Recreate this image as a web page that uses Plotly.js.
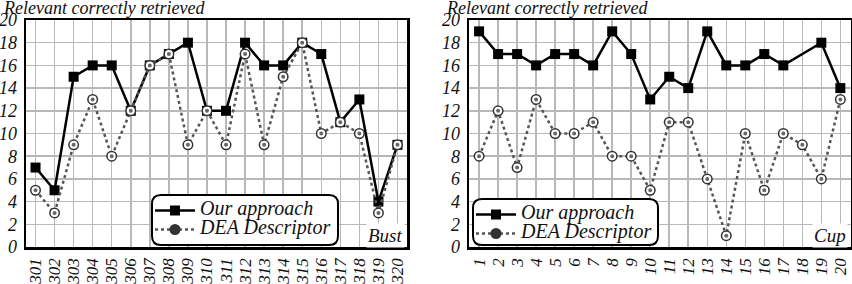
<!DOCTYPE html>
<html><head><meta charset="utf-8">
<script src="https://cdn.plot.ly/plotly-3.0.1.min.js"></script>
<style>html,body{margin:0;padding:0;background:#fff}#chart{width:852px;height:284px}</style>
</head><body><div id="chart"></div>
<script>
const bustCategories = [301,302,303,304,305,306,307,308,309,310,311,312,313,314,315,316,317,318,319,320];
const bustOurApproach = [7,5,15,16,16,12,16,17,18,12,12,18,16,16,18,17,11,13,4,9];
const bustDEA = [5,3,9,13,8,12,16,17,9,12,9,17,9,15,18,10,11,10,3,9];
const cupCategories = [1,2,3,4,5,6,7,8,9,10,11,12,13,14,15,16,17,18,19,20];
const cupOurApproach = [19,17,17,16,17,17,16,19,17,13,15,14,19,16,16,17,16,null,18,14];
const cupDEA = [8,12,7,13,10,10,11,8,8,5,11,11,6,1,10,5,10,9,6,13];
const seriesNames = ['Our approach','DEA Descriptor'];
const panelLabels = ['Bust','Cup'];
const yTicks = [0,2,4,6,8,10,12,14,16,18,20];
const yAxisTitle = 'Relevant correctly retrieved';

const W = 852, H = 284;
const px = v => v / W;
const py = v => (H - v) / H;
const serif = '"Liberation Serif"';
const yTickFont = {family: serif, size: 18, style: 'italic', color: '#111'};
const xTickFont = {family: serif, size: 17, style: 'italic', color: '#111'};

function legendName(s) {
  return '<span style="font-size:20px">' + s + '</span>';
}

function ourTrace(x, y, xa, ya, leg) {
  return {x: x, y: y, xaxis: xa, yaxis: ya, legend: leg, name: legendName(seriesNames[0]),
    type: 'scatter', mode: 'lines+markers', connectgaps: true,
    line: {color: '#000', width: 2.5},
    marker: {symbol: 'square', size: 10, color: '#000', line: {width: 0}}};
}
function deaTrace(x, y, xa, ya, leg) {
  return {x: x, y: y, xaxis: xa, yaxis: ya, legend: leg, name: legendName(seriesNames[1]),
    type: 'scatter', mode: 'lines+markers',
    line: {color: '#555', width: 2.5, dash: 'dot'},
    marker: {symbol: 'circle', size: 11, color: '#333', line: {width: 0}}};
}
function deaCenter(x, y, xa, ya, leg) {
  return {x: x, y: y, xaxis: xa, yaxis: ya, legend: leg, showlegend: false,
    type: 'scatter', mode: 'markers',
    marker: {symbol: 'circle', size: 6, color: '#666', line: {color: '#fff', width: 2}}};
}

const data = [
  ourTrace(bustCategories, bustOurApproach, 'x', 'y', 'legend'),
  deaTrace(bustCategories, bustDEA, 'x', 'y', 'legend'),
  deaCenter(bustCategories, bustDEA, 'x', 'y', 'legend'),
  ourTrace(cupCategories, cupOurApproach, 'x2', 'y2', 'legend2'),
  deaTrace(cupCategories, cupDEA, 'x2', 'y2', 'legend2'),
  deaCenter(cupCategories, cupDEA, 'x2', 'y2', 'legend2')
];

function xAxis(domain, range, cats, anchor) {
  return {domain: domain, range: range, anchor: anchor, tickmode: 'array',
    tickvals: cats, ticktext: cats.map(String), tickangle: -90, tickfont: xTickFont,
    showgrid: true, gridcolor: '#b8b8b8', gridwidth: 1.5, zeroline: false,
    showline: true, mirror: true, linecolor: '#000', linewidth: 2.5, ticks: '', ticklabelstandoff: 2};
}
function yAxis(domain, anchor) {
  return {domain: domain, range: [0, 20], anchor: anchor, tickmode: 'array',
    tickvals: yTicks, ticktext: yTicks.map(String), tickfont: yTickFont,
    showgrid: true, gridcolor: '#b8b8b8', gridwidth: 1.5, zeroline: false,
    showline: true, mirror: true, linecolor: '#000', linewidth: 2.5, ticks: '', ticklabelstandoff: 3};
}

function roundRect(x0, y0, x1, y1, r) {
  const rx = r / W, ry = r / H;
  const X0 = px(x0), X1 = px(x1), Y0 = py(y1), Y1 = py(y0);
  return 'M' + (X0 + rx) + ',' + Y0 + ' L' + (X1 - rx) + ',' + Y0 +
    ' Q' + X1 + ',' + Y0 + ' ' + X1 + ',' + (Y0 + ry) +
    ' L' + X1 + ',' + (Y1 - ry) + ' Q' + X1 + ',' + Y1 + ' ' + (X1 - rx) + ',' + Y1 +
    ' L' + (X0 + rx) + ',' + Y1 + ' Q' + X0 + ',' + Y1 + ' ' + X0 + ',' + (Y1 - ry) +
    ' L' + X0 + ',' + (Y0 + ry) + ' Q' + X0 + ',' + Y0 + ' ' + (X0 + rx) + ',' + Y0 + ' Z';
}

const yDom = [py(247), py(20)];
const legendBase = {bgcolor: 'rgba(0,0,0,0)', borderwidth: 0, itemwidth: 40,
  font: {family: serif, size: 12, color: '#111', style: 'italic'}, xanchor: 'left', yanchor: 'top',
  tracegroupgap: 0, itemclick: false};

const annFont = {family: serif, size: 18, style: 'italic', color: '#111'};

const layout = {
  width: W, height: H, margin: {l: 0, r: 0, t: 0, b: 0},
  paper_bgcolor: '#fff', plot_bgcolor: '#fff', showlegend: true,
  font: {family: serif},
  xaxis: xAxis([px(26), px(407)], [300.5, 320.5], bustCategories, 'y'),
  yaxis: yAxis(yDom, 'x'),
  xaxis2: xAxis([px(469), px(851)], [0.47, 20.56], cupCategories, 'y2'),
  yaxis2: yAxis(yDom, 'x2'),
  legend: Object.assign({}, legendBase, {x: px(150), y: py(196)}),
  legend2: Object.assign({}, legendBase, {x: px(471), y: py(200)}),
  shapes: [
    {type: 'path', xref: 'paper', yref: 'paper', path: roundRect(152, 195, 338, 245, 9),
      fillcolor: '#fff', line: {color: '#000', width: 2}, layer: 'above'},
    {type: 'path', xref: 'paper', yref: 'paper', path: roundRect(473, 199, 658, 245, 9),
      fillcolor: '#fff', line: {color: '#000', width: 2}, layer: 'above'}
  ],
  annotations: [
    {text: yAxisTitle, xref: 'paper', yref: 'paper', x: px(2), y: py(8), xanchor: 'left', yanchor: 'middle',
      showarrow: false, font: annFont, borderpad: 0},
    {text: yAxisTitle, xref: 'paper', yref: 'paper', x: px(445), y: py(8), xanchor: 'left', yanchor: 'middle',
      showarrow: false, font: annFont, borderpad: 0},
    {text: panelLabels[0], xref: 'paper', yref: 'paper', x: px(405), y: py(235), xanchor: 'right', yanchor: 'middle',
      showarrow: false, bgcolor: '#fff', font: Object.assign({}, annFont, {size: 19})},
    {text: panelLabels[1], xref: 'paper', yref: 'paper', x: px(848), y: py(235), xanchor: 'right', yanchor: 'middle',
      showarrow: false, bgcolor: '#fff', font: Object.assign({}, annFont, {size: 19})}
  ]
};

Plotly.newPlot('chart', data, layout, {displayModeBar: false, staticPlot: true});
</script>
</body></html>
